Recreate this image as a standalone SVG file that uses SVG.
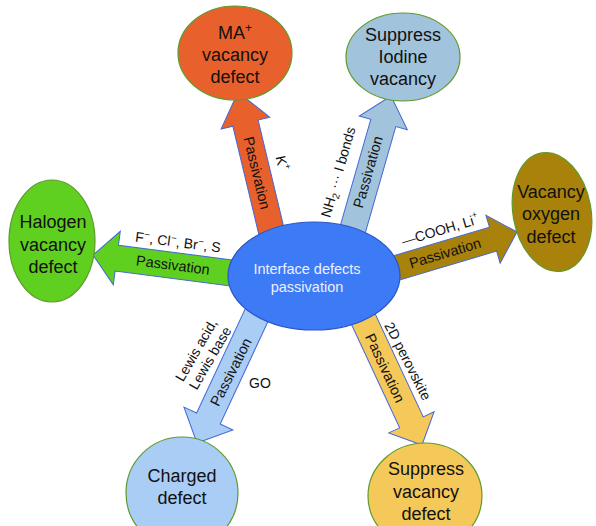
<svg xmlns="http://www.w3.org/2000/svg" width="596" height="526" viewBox="0 0 596 526">
<style>
.arrow{stroke:#4468d6;stroke-width:1;stroke-linejoin:miter}
.node{stroke:#5e9a2c;stroke-width:1.2}
.nt{font-family:"Liberation Sans",Arial,sans-serif;font-size:18px;fill:#111;text-anchor:middle}
.pt{font-family:"Liberation Sans",Arial,sans-serif;font-size:14.5px;fill:#111;text-anchor:middle;dominant-baseline:central}
.lt{font-family:"Liberation Sans",Arial,sans-serif;font-size:14px;fill:#111;text-anchor:middle;dominant-baseline:central}
.ct{font-family:"Liberation Sans",Arial,sans-serif;font-size:14.5px;fill:#eef0ff;text-anchor:middle}
</style>
<rect width="596" height="526" fill="#ffffff"/>
<g id="connectors">
  <polygon class="arrow" fill="#e8602c" transform="translate(238,92) rotate(-103.5)" points="0,0 -32,-25 -32,-13 -150,-13 -150,13 -32,13 -32,25"/>
  <polygon class="arrow" fill="#a2c3dc" transform="translate(391,96) rotate(-74)" points="0,0 -28,-25 -28,-13 -155,-13 -155,13 -28,13 -28,25"/>
  <polygon class="arrow" fill="#5fcf20" transform="translate(93,255) rotate(187.4)" points="0,0 -24,-27 -24,-13 -150,-13 -150,13 -24,13 -24,27"/>
  <polygon class="arrow" fill="#a8820a" transform="translate(517,232) rotate(-16.6)" points="0,0 -25,-25 -25,-12.5 -140,-12.5 -140,12.5 -25,12.5 -25,25"/>
  <polygon class="arrow" fill="#a9cdf5" transform="translate(197,443) rotate(115)" points="0,0 -27,-27 -27,-13 -150,-13 -150,13 -27,13 -27,27"/>
  <polygon class="arrow" fill="#f5c85a" transform="translate(422,445) rotate(65)" points="0,0 -25,-25 -25,-13 -150,-13 -150,13 -25,13 -25,25"/>
</g>
<g id="node-center">
  <ellipse cx="314" cy="276" rx="86" ry="54" fill="#3d7af5" stroke="#2b55c8" stroke-width="1.2"/>
  <text class="ct" x="307" y="274">Interface defects</text>
  <text class="ct" x="307" y="292">passivation</text>
</g>
<g id="node-ma">
  <ellipse class="node" cx="235" cy="53" rx="57" ry="47" fill="#e8602c"/>
  <text class="nt" x="235" y="39">MA<tspan font-size="12" dy="-7">+</tspan></text>
  <text class="nt" x="235" y="61">vacancy</text>
  <text class="nt" x="235" y="83">defect</text>
</g>
<g id="node-iodine">
  <ellipse class="node" cx="403" cy="57" rx="57" ry="44" fill="#a2c3dc"/>
  <text class="nt" x="403" y="41">Suppress</text>
  <text class="nt" x="403" y="63">Iodine</text>
  <text class="nt" x="403" y="85">vacancy</text>
</g>
<g id="node-halogen">
  <ellipse class="node" cx="52" cy="241" rx="43" ry="61" fill="#5fcf20"/>
  <text class="nt" x="53" y="228">Halogen</text>
  <text class="nt" x="53" y="251">vacancy</text>
  <text class="nt" x="53" y="273">defect</text>
</g>
<g id="node-oxygen">
  <ellipse class="node" cx="552" cy="212" rx="39" ry="60" transform="rotate(-10 552 212)" fill="#a8820a"/>
  <text class="nt" x="551" y="198">Vacancy</text>
  <text class="nt" x="551" y="220">oxygen</text>
  <text class="nt" x="551" y="243">defect</text>
</g>
<g id="node-charged">
  <ellipse class="node" cx="182" cy="493" rx="56" ry="56" fill="#a9cdf5"/>
  <text class="nt" x="182" y="482">Charged</text>
  <text class="nt" x="182" y="504">defect</text>
</g>
<g id="node-suppress-vacancy">
  <ellipse class="node" cx="425" cy="496" rx="57" ry="53" fill="#f5c85a"/>
  <text class="nt" x="426" y="475">Suppress</text>
  <text class="nt" x="426" y="498">vacancy</text>
  <text class="nt" x="426" y="520">defect</text>
</g>
<g id="labels">
  <text class="pt" transform="translate(257,173) rotate(76.5)">Passivation</text>
  <text class="pt" transform="translate(368,172) rotate(-74)">Passivation</text>
  <text class="pt" transform="translate(173,265) rotate(7.4)">Passivation</text>
  <text class="pt" transform="translate(445,253) rotate(-16.6)">Passivation</text>
  <text class="pt" transform="translate(231,372) rotate(-63)">Passivation</text>
  <text class="pt" transform="translate(385,368) rotate(65)">Passivation</text>
  <text class="lt" transform="translate(282,163) rotate(76.5)">K<tspan font-size="9" dy="-5">+</tspan></text>
  <text class="lt" transform="translate(338,172) rotate(-74)">NH<tspan font-size="10" dy="4">2</tspan><tspan dy="-4"> ··· I bonds</tspan></text>
  <text class="lt" transform="translate(178,242) rotate(7.4)">F<tspan font-size="10" dy="-4">−</tspan><tspan dy="4">, Cl</tspan><tspan font-size="10" dy="-4">−</tspan><tspan dy="4">, Br</tspan><tspan font-size="10" dy="-4">−</tspan><tspan dy="4">, S</tspan></text>
  <text class="lt" transform="translate(440,230) rotate(-16.6)">—COOH, Li<tspan font-size="9" dy="-5">+</tspan></text>
  <g transform="translate(203,354) rotate(-60)">
    <text class="lt" x="0" y="-8">Lewis acid,</text>
    <text class="lt" x="0" y="8">Lewis base</text>
  </g>
  <text class="lt" x="260" y="383">GO</text>
  <text class="lt" transform="translate(408,361) rotate(63)">2D perovskite</text>
</g>
</svg>
